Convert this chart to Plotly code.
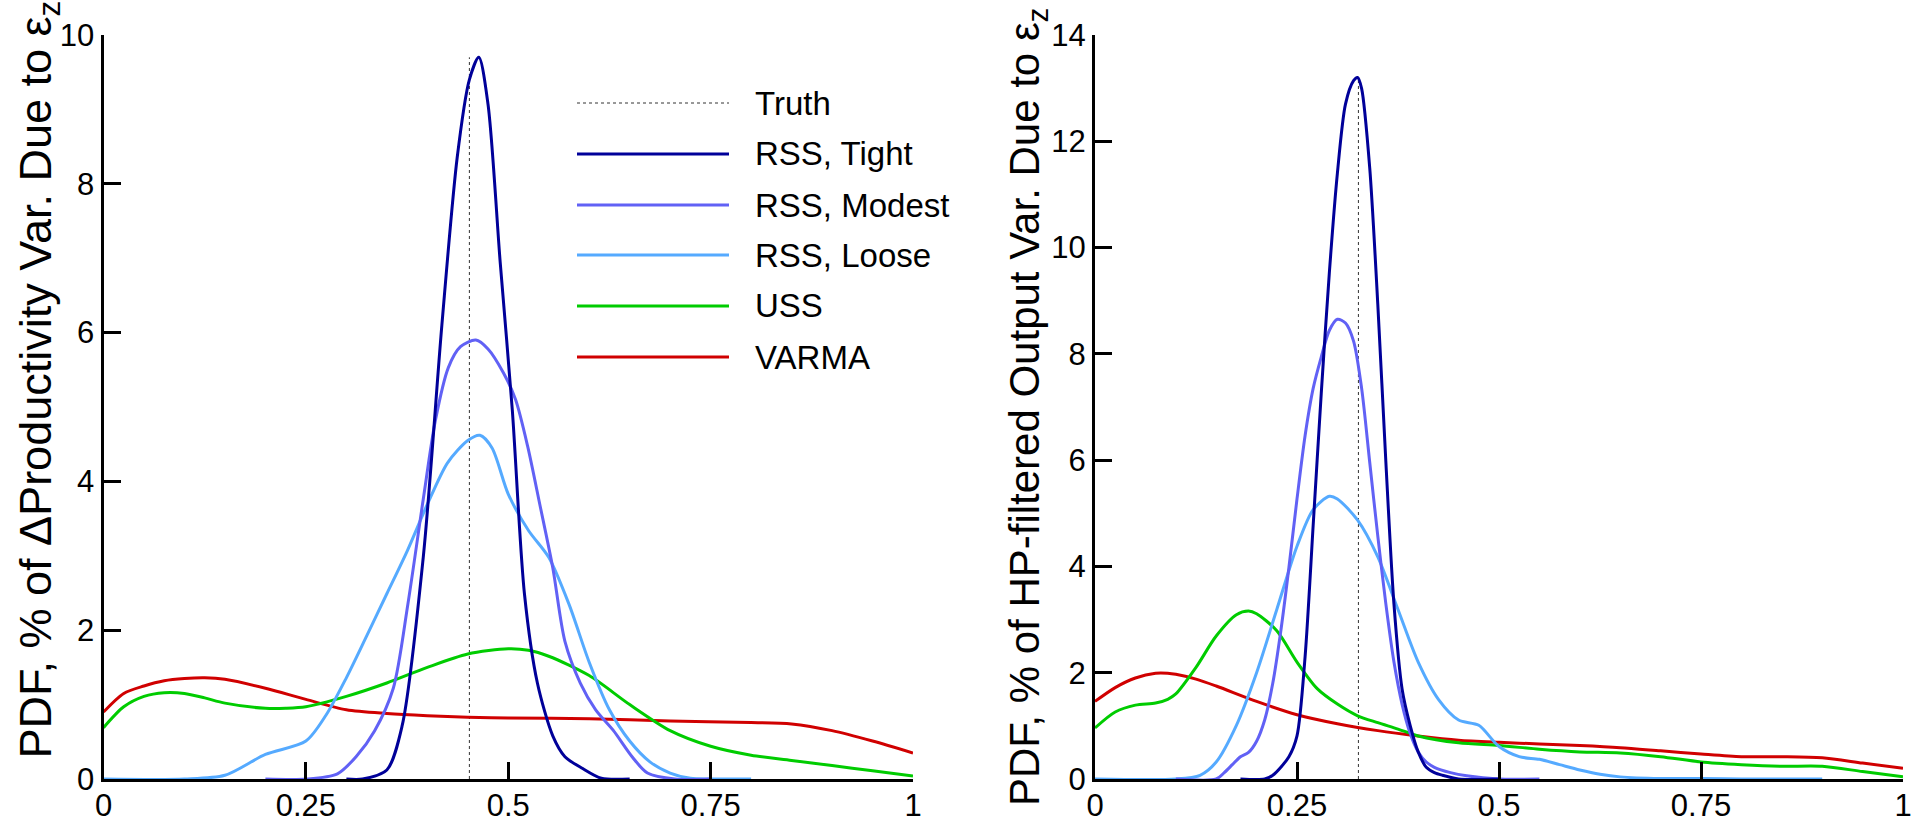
import plotly.graph_objects as go

# ---------------- data ----------------
series_names = ["RSS, Tight", "RSS, Modest", "RSS, Loose", "USS", "VARMA"]
truth_name = "Truth"

# Left panel: % of ΔProductivity variance due to eps_z
L_tight_x = [0.30, 0.32, 0.35, 0.369, 0.395, 0.418, 0.437, 0.452, 0.4636, 0.475, 0.49, 0.505, 0.52, 0.536, 0.555, 0.57, 0.592, 0.615, 0.65]
L_tight_y = [0.0, 0.0, 0.12, 0.72, 2.98, 6.1, 8.36, 9.4, 9.7, 9.07, 6.95, 4.96, 2.49, 1.29, 0.58, 0.3, 0.14, 0.01, 0.0]

L_modest_x = [0.20, 0.2515, 0.289, 0.312, 0.335, 0.358, 0.376, 0.395, 0.41, 0.426, 0.441, 0.46, 0.475, 0.494, 0.509, 0.524, 0.539, 0.555, 0.57, 0.589, 0.608, 0.63, 0.653, 0.672, 0.706, 0.75]
L_modest_y = [0.0, 0.0, 0.07, 0.3, 0.65, 1.22, 2.35, 3.76, 4.82, 5.53, 5.81, 5.9, 5.78, 5.46, 5.1, 4.47, 3.69, 2.84, 1.85, 1.29, 0.93, 0.65, 0.3, 0.08, 0.0, 0.0]

L_loose_x = [0.0, 0.1, 0.15, 0.2, 0.25, 0.275, 0.3, 0.325, 0.35, 0.375, 0.4, 0.425, 0.45, 0.465, 0.48, 0.5, 0.525, 0.55, 0.575, 0.6, 0.625, 0.65, 0.675, 0.7, 0.725, 0.75, 0.8]
L_loose_y = [0.0, 0.0, 0.05, 0.33, 0.51, 0.86, 1.36, 1.92, 2.49, 3.06, 3.69, 4.25, 4.55, 4.62, 4.45, 3.83, 3.34, 2.98, 2.35, 1.57, 0.93, 0.51, 0.23, 0.08, 0.01, 0.0, 0.0]

L_uss_x = [0.0, 0.025, 0.05, 0.075, 0.1, 0.125, 0.15, 0.2, 0.225, 0.25, 0.3, 0.35, 0.4, 0.45, 0.5, 0.525, 0.55, 0.6, 0.65, 0.7, 0.75, 0.8, 0.85, 0.9, 0.95, 1.0]
L_uss_y = [0.69, 0.97, 1.11, 1.16, 1.15, 1.09, 1.02, 0.95, 0.95, 0.97, 1.11, 1.29, 1.5, 1.68, 1.75, 1.73, 1.65, 1.39, 1.0, 0.65, 0.44, 0.32, 0.25, 0.18, 0.11, 0.04]

L_varma_x = [0.0, 0.025, 0.05, 0.075, 0.1, 0.125, 0.15, 0.2, 0.25, 0.3, 0.35, 0.4, 0.45, 0.5, 0.6, 0.7, 0.8, 0.85, 0.9, 0.95, 1.0]
L_varma_y = [0.9, 1.15, 1.25, 1.32, 1.35, 1.36, 1.34, 1.22, 1.07, 0.93, 0.88, 0.85, 0.83, 0.82, 0.81, 0.78, 0.76, 0.74, 0.65, 0.51, 0.35]

L_truth_x = 0.452
L_truth_top = 9.7

# Right panel: % of HP-filtered output variance due to eps_z
R_tight_x = [0.18, 0.21, 0.22, 0.24, 0.25, 0.26, 0.27, 0.28, 0.29, 0.30, 0.31, 0.32, 0.325, 0.33, 0.34, 0.35, 0.36, 0.37, 0.38, 0.39, 0.40, 0.41, 0.42, 0.43, 0.45, 0.5]
R_tight_y = [0.0, 0.0, 0.07, 0.42, 0.81, 2.3, 4.77, 7.25, 9.52, 11.4, 12.7, 13.14, 13.2, 12.99, 11.5, 8.93, 5.96, 3.29, 1.7, 1.01, 0.51, 0.22, 0.12, 0.07, 0.0, 0.0]

R_modest_x = [0.10, 0.15, 0.16, 0.17, 0.18, 0.19, 0.20, 0.21, 0.22, 0.23, 0.24, 0.25, 0.26, 0.27, 0.28, 0.29, 0.30, 0.31, 0.32, 0.33, 0.34, 0.35, 0.36, 0.37, 0.38, 0.39, 0.40, 0.41, 0.42, 0.44, 0.46, 0.5, 0.55]
R_modest_y = [0.0, 0.0, 0.12, 0.27, 0.42, 0.5, 0.71, 1.11, 1.8, 2.79, 3.98, 5.27, 6.46, 7.35, 7.94, 8.44, 8.65, 8.58, 8.24, 7.35, 5.96, 4.57, 3.29, 2.2, 1.41, 0.86, 0.51, 0.32, 0.22, 0.12, 0.06, 0.0, 0.0]

R_loose_x = [0.0, 0.1, 0.13, 0.15, 0.175, 0.2, 0.225, 0.25, 0.27, 0.29, 0.3, 0.325, 0.35, 0.375, 0.4, 0.425, 0.45, 0.475, 0.5, 0.525, 0.55, 0.575, 0.6, 0.625, 0.65, 0.7, 0.75, 0.8, 0.9]
R_loose_y = [0.0, 0.0, 0.07, 0.32, 1.01, 2.0, 3.19, 4.38, 5.07, 5.32, 5.27, 4.87, 4.18, 3.19, 2.2, 1.5, 1.11, 1.01, 0.61, 0.42, 0.37, 0.27, 0.17, 0.09, 0.04, 0.01, 0.01, 0.0, 0.0]

R_uss_x = [0.0, 0.025, 0.05, 0.075, 0.09, 0.1, 0.125, 0.15, 0.175, 0.19, 0.2, 0.225, 0.25, 0.275, 0.3, 0.325, 0.35, 0.375, 0.4, 0.45, 0.5, 0.55, 0.6, 0.65, 0.7, 0.75, 0.8, 0.85, 0.9, 0.95, 1.0]
R_uss_y = [0.96, 1.26, 1.39, 1.43, 1.5, 1.6, 2.1, 2.69, 3.09, 3.16, 3.11, 2.79, 2.2, 1.7, 1.41, 1.19, 1.06, 0.94, 0.81, 0.68, 0.63, 0.56, 0.51, 0.49, 0.42, 0.32, 0.27, 0.24, 0.24, 0.14, 0.04]

R_varma_x = [0.0, 0.025, 0.05, 0.075, 0.09, 0.1, 0.125, 0.15, 0.2, 0.25, 0.3, 0.35, 0.4, 0.45, 0.5, 0.55, 0.6, 0.65, 0.7, 0.75, 0.8, 0.85, 0.9, 0.95, 1.0]
R_varma_y = [1.46, 1.72, 1.9, 1.99, 1.99, 1.97, 1.88, 1.75, 1.46, 1.21, 1.04, 0.91, 0.81, 0.73, 0.69, 0.66, 0.63, 0.59, 0.53, 0.47, 0.42, 0.42, 0.4, 0.3, 0.2]

R_truth_x = 0.326
R_truth_top = 13.2

x_tick_vals = [0, 0.25, 0.5, 0.75, 1]
x_tick_text = ["0", "0.25", "0.5", "0.75", "1"]
L_y_ticks = [0, 2, 4, 6, 8, 10]
R_y_ticks = [0, 2, 4, 6, 8, 10, 12, 14]

L_title = "PDF, % of ΔProductivity Var. Due to ε<sub>z</sub>"
R_title = "PDF, % of HP-filtered Output Var. Due to ε<sub>z</sub>"

# ---------------- styling ----------------
colors = ["#000099", "#6161f5", "#55aaff", "#00cc00", "#d00000"]
FONT = "Liberation Sans, Arial, sans-serif"
W, H = 1921, 823


def px_x(p):
    return p / W


def px_y(p):
    return 1 - p / H


fig = go.Figure()

left_series = [(L_tight_x, L_tight_y), (L_modest_x, L_modest_y), (L_loose_x, L_loose_y),
               (L_uss_x, L_uss_y), (L_varma_x, L_varma_y)]
right_series = [(R_tight_x, R_tight_y), (R_modest_x, R_modest_y), (R_loose_x, R_loose_y),
                (R_uss_x, R_uss_y), (R_varma_x, R_varma_y)]

# truth lines
fig.add_trace(go.Scatter(x=[L_truth_x, L_truth_x], y=[0, L_truth_top], mode="lines",
                         line=dict(color="#333333", width=1, dash="dot"), name=truth_name,
                         xaxis="x", yaxis="y", showlegend=False))
fig.add_trace(go.Scatter(x=[R_truth_x, R_truth_x], y=[0, R_truth_top], mode="lines",
                         line=dict(color="#333333", width=1, dash="dot"), name=truth_name,
                         xaxis="x2", yaxis="y2", showlegend=False))

# draw in reverse order so Tight is on top
for i in reversed(range(len(series_names))):
    xs, ys = left_series[i]
    fig.add_trace(go.Scatter(x=xs, y=ys, mode="lines", name=series_names[i],
                             line=dict(color=colors[i], width=3, shape="spline", smoothing=0.8),
                             xaxis="x", yaxis="y", showlegend=False))
    xs, ys = right_series[i]
    fig.add_trace(go.Scatter(x=xs, y=ys, mode="lines", name=series_names[i],
                             line=dict(color=colors[i], width=3, shape="spline", smoothing=0.8),
                             xaxis="x2", yaxis="y2", showlegend=False))

# plot area pixel geometry
L_x0, L_x1 = 103.5, 913.0
R_x0, R_x1 = 1095.0, 1903.0
Y_top, Y_bot = 35.0, 779.0

axis_common = dict(showline=True, linewidth=3, linecolor="black", mirror=False,
                   ticks="inside", ticklen=17, tickwidth=3, tickcolor="black",
                   showgrid=False, zeroline=False, automargin=False,
                   tickfont=dict(family=FONT, size=31, color="black"))

fig.update_layout(
    width=W, height=H,
    margin=dict(l=0, r=0, t=0, b=0, pad=0),
    paper_bgcolor="white", plot_bgcolor="white",
    showlegend=False,
    font=dict(family=FONT, color="black"),
    xaxis=dict(domain=[px_x(L_x0), px_x(L_x1)], range=[0, 1], anchor="y",
               tickvals=x_tick_vals, ticktext=x_tick_text, ticklabelstandoff=-3, **axis_common),
    yaxis=dict(domain=[px_y(Y_bot), px_y(Y_top)], range=[0, 10], anchor="x",
               tickvals=L_y_ticks, **axis_common),
    xaxis2=dict(domain=[px_x(R_x0), px_x(R_x1)], range=[0, 1], anchor="y2",
                tickvals=x_tick_vals, ticktext=x_tick_text, ticklabelstandoff=-3, **axis_common),
    yaxis2=dict(domain=[px_y(Y_bot), px_y(Y_top)], range=[0, 14], anchor="x2",
                tickvals=R_y_ticks, **axis_common),
)

# axis titles as rotated annotations, pinned at the start of the text
fig.add_annotation(text=L_title, xref="paper", yref="paper", x=px_x(37.5), y=px_y(761),
                   xanchor="center", yanchor="bottom", textangle=-90, showarrow=False,
                   font=dict(family=FONT, size=45, color="black"))
fig.add_annotation(text=R_title, xref="paper", yref="paper", x=px_x(1027), y=px_y(808),
                   xanchor="center", yanchor="bottom", textangle=-90, showarrow=False,
                   font=dict(family=FONT, size=42, color="black"))

# manual legend (long line samples as in the reference)
leg_names = [truth_name] + series_names
leg_colors = ["#333333"] + colors
leg_rows = [103, 154, 205, 255, 306, 357]
for name, col, row in zip(leg_names, leg_colors, leg_rows):
    is_truth = name == truth_name
    fig.add_shape(type="line", xref="paper", yref="paper",
                  x0=px_x(577), x1=px_x(729), y0=px_y(row), y1=px_y(row),
                  line=dict(color=col, width=1 if is_truth else 3, dash="dot" if is_truth else "solid"))
    fig.add_annotation(text=name, xref="paper", yref="paper", x=px_x(753), y=px_y(row),
                       xanchor="left", yanchor="middle", showarrow=False,
                       font=dict(family=FONT, size=33, color="black"))

fig.write_html("out.html")
